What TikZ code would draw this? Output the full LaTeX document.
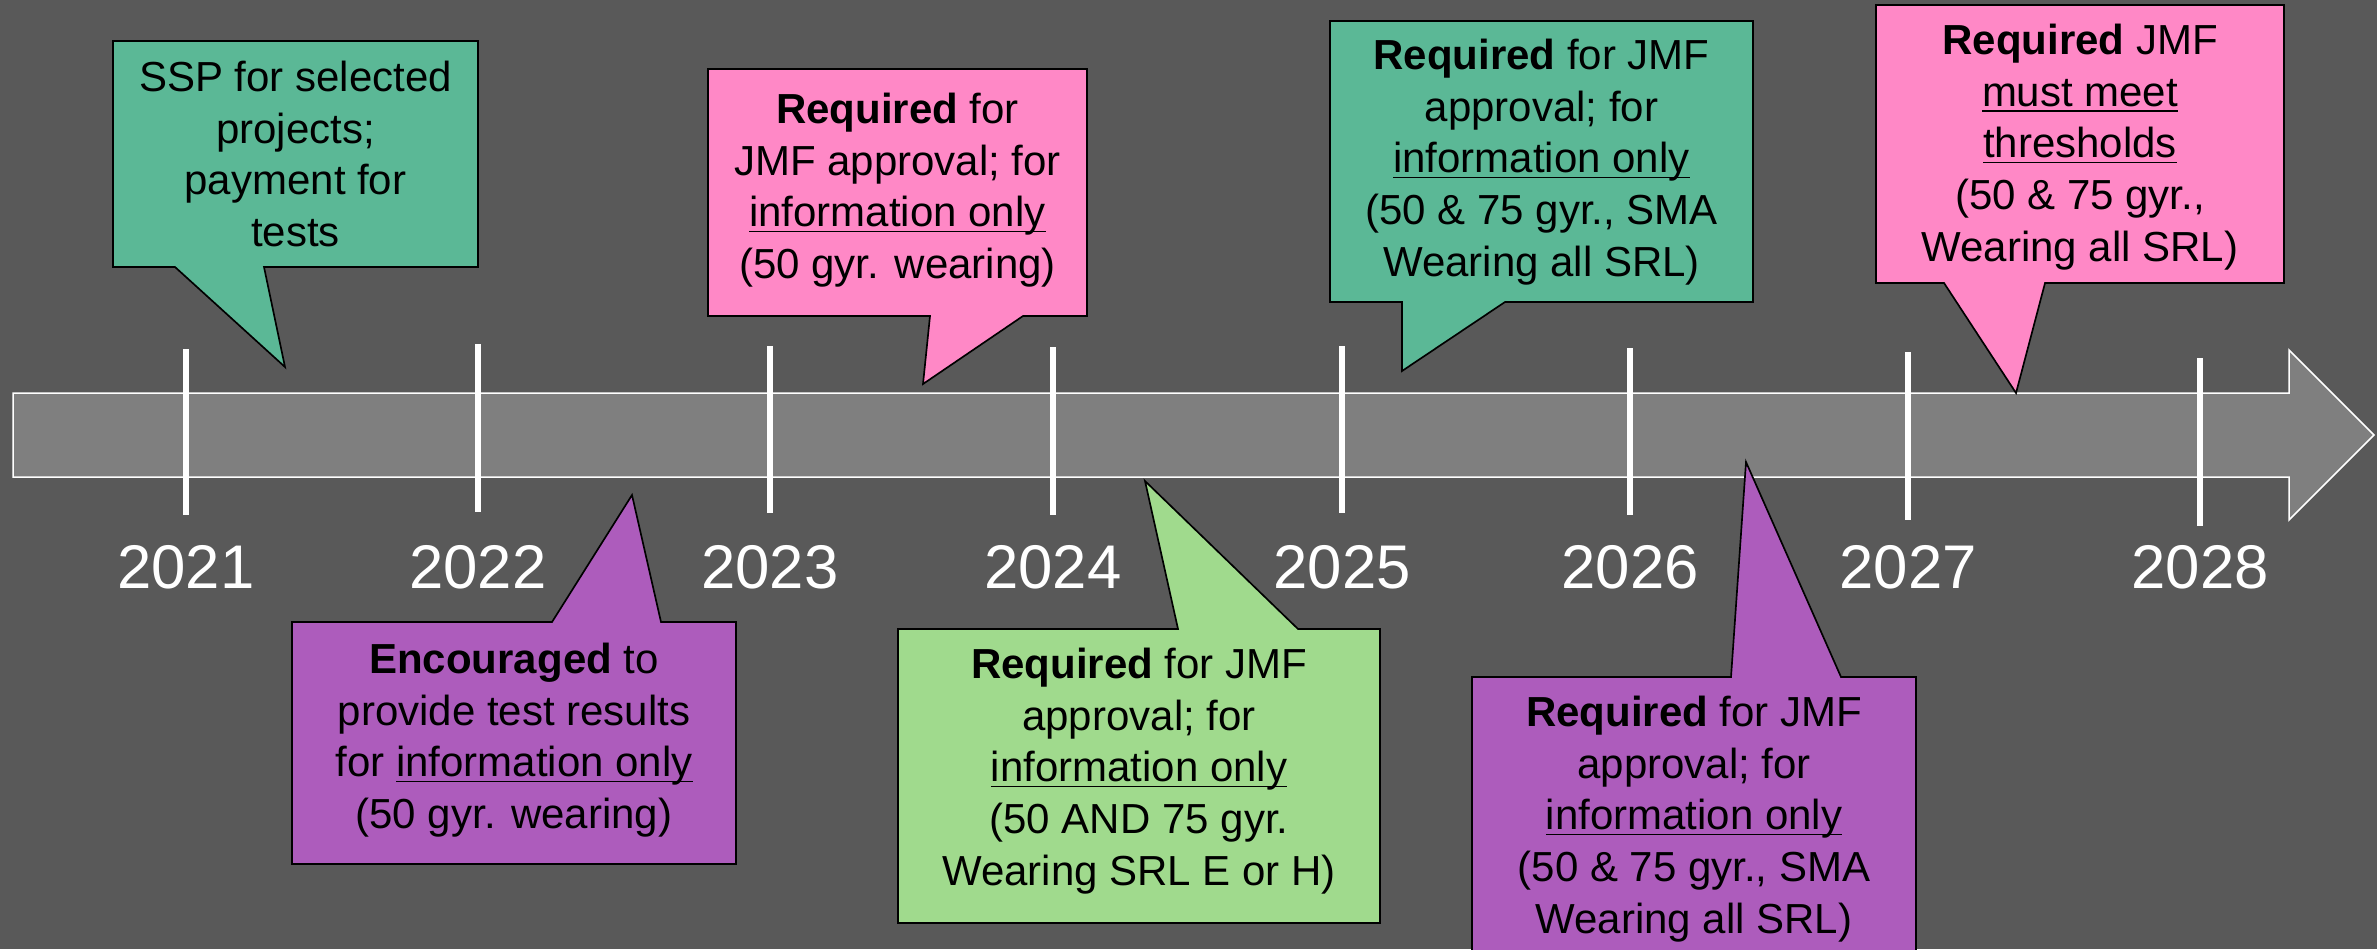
\documentclass[tikz,border=0pt]{standalone}
\usepackage{fontspec}
\setmainfont{Liberation Sans}
\usepackage{xcolor}
\usetikzlibrary{positioning}

\definecolor{slate}{RGB}{89,89,89}
\definecolor{barfill}{RGB}{127,127,127}
\definecolor{tealbox}{RGB}{91,184,150}
\definecolor{pinkbox}{RGB}{255,136,198}
\definecolor{purplebox}{RGB}{173,92,188}
\definecolor{limebox}{RGB}{160,218,141}

\newcommand{\ulined}[1]{\underline{\smash{#1}}}

\begin{document}
\begin{tikzpicture}[
  x=0.3pt, y=-0.3pt,
  year/.style={text=white,inner sep=0pt,font=\fontsize{18.5}{22}\selectfont},
  tickmark/.style={draw=white,line width=1.8pt},
  bubble/.style={draw=black,line width=0.5pt,fill=#1},
  msg/.style={align=center,inner sep=0pt,font=\fontsize{12.6}{15.5}\selectfont}
]

% --- Background ---
\fill[slate] (0,0) rectangle (2377,949);
\clip (0,0) rectangle (2377,949);

% --- Timeline bar ---
\draw[white,line width=0.45pt,fill=barfill]
  (13,393) -- (2289,393) -- (2289,350) -- (2374,435) -- (2289,520) -- (2289,477) -- (13,477) -- cycle;

% --- Ticks and years ---
\foreach \x/\ya/\yb/\yr in {186/349/515/2021, 478/344/512/2022, 770/346/513/2023,
    1053/347/515/2024, 1342/346/513/2025, 1630/348/515/2026, 1908/352/520/2027, 2200/358/526/2028}{
  \draw[tickmark] (\x,\ya) -- (\x,\yb);
  \node[year] (y\yr) at (\x,567) {\yr};
}

% --- Callouts above the bar ---
\draw[bubble=tealbox] (113,41) -- (478,41) -- (478,267) -- (264,267) -- (285,367) -- (175,267) -- (113,267) -- cycle;
\node[msg] (ssp) at (295.5,154) {SSP for selected\\projects;\\payment for\\tests};

\draw[bubble=pinkbox] (708,69) -- (1087,69) -- (1087,316) -- (1023,316) -- (923,384) -- (930,316) -- (708,316) -- cycle;
\node[msg] (req23) at (897.5,190) {\textbf{Required} for\\JMF approval; for\\\ulined{information only}\\(50 gyr. wearing)};

\draw[bubble=tealbox] (1330,21) -- (1753,21) -- (1753,302) -- (1505,302) -- (1402,371) -- (1402,302) -- (1330,302) -- cycle;
\node[msg] (req25) at (1541.5,162) {\textbf{Required} for JMF\\approval; for\\\ulined{information only}\\(50 \& 75 gyr., SMA\\Wearing all SRL)};

\draw[bubble=pinkbox] (1876,5) -- (2284,5) -- (2284,283) -- (2045,283) -- (2016,393) -- (1944,283) -- (1876,283) -- cycle;
\node[msg] (req27) at (2080,147) {\textbf{Required} JMF\\\ulined{must meet}\\\ulined{thresholds}\\(50 \& 75 gyr.,\\Wearing all SRL)};

% --- Callouts below the bar ---
\draw[bubble=purplebox] (292,622) -- (552,622) -- (632,495) -- (661,622) -- (736,622) -- (736,864) -- (292,864) -- cycle;
\node[msg] (enc22) at (514,740) {\textbf{Encouraged} to\\provide test results\\for \ulined{information only}\\(50 gyr. wearing)};

\draw[bubble=limebox] (898,629) -- (1178,629) -- (1145,481) -- (1298,629) -- (1380,629) -- (1380,923) -- (898,923) -- cycle;
\node[msg] (req24) at (1139,771) {\textbf{Required} for JMF\\approval; for\\\ulined{information only}\\(50 AND 75 gyr.\\Wearing SRL E or H)};

\draw[bubble=purplebox] (1472,677) -- (1731,677) -- (1746,462) -- (1841,677) -- (1916,677) -- (1916,975) -- (1472,975) -- cycle;
\node[msg] (req26) at (1694,819) {\textbf{Required} for JMF\\approval; for\\\ulined{information only}\\(50 \& 75 gyr., SMA\\Wearing all SRL)};
\end{tikzpicture}
\end{document}
